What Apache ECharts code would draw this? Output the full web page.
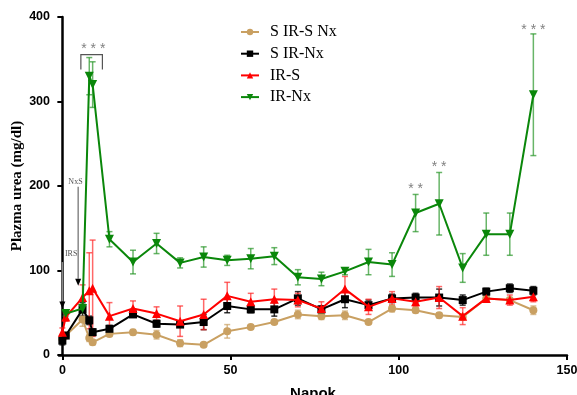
<!DOCTYPE html>
<html><head><meta charset="utf-8">
<script src="https://cdn.jsdelivr.net/npm/echarts@6/dist/echarts.min.js"></script>
<style>html,body{margin:0;padding:0;background:#fff}#c{width:577px;height:395px}</style>
</head><body><div id="c"></div>
<script>
const days = [0,1,6,8,9,14,21,28,35,42,49,56,63,70,77,84,91,98,105,112,119,126,133,140];
const tanVals   = [19,23,42,20,15,25,27,24,14,12,28,33,39,48,46,47,39,55,53,47,45,67,65,53];
const tanErr    = [3,2,8,4,3,3,3,5,4,2,8,2,2,5,4,5,2,4,3,3,3,3,3,5];
const blackVals = [17,23,54,41,27,31,48,37,36,39,58,54,54,67,54,66,59,67,68,68,65,75,79,76];
const blackErr  = [5,3,8,5,4,4,3,4,3,9,8,4,8,8,4,10,6,5,5,10,6,4,5,5];
const redVals   = [27,45,68,76,79,46,55,49,40,48,70,63,66,65,55,78,57,67,63,68,46,67,65,69];
const redErr    = [5,5,15,45,57,16,9,8,18,18,16,10,12,8,8,15,9,8,6,13,10,4,6,6];
const greenVals = [null,49,55,330,320,137,110,132,109,116,112,114,117,92,90,99,110,107,168,179,103,143,143,308];
const greenErr  = [null,3,5,22,27,9,14,12,6,12,6,12,10,9,8,4,15,14,22,37,17,25,25,72];
const seriesNames = ['S IR-S Nx','S IR-Nx','IR-S','IR-Nx'];
const xTicks = [0,50,100,150];
const yTicks = [0,100,200,300,400];

const colors = ['#C9A062','#000000','#FF0000','#0A870A'];
const errColors = ['rgba(201,160,98,0.7)','rgba(0,0,0,0.8)','rgba(255,40,40,0.7)','rgba(40,150,40,0.7)'];
const symbols = ['circle','rect','triangle','triangle'];
const rot = [0,0,0,180];
const vals = [tanVals,blackVals,redVals,greenVals];
const errs = [tanErr,blackErr,redErr,greenErr];

const chart = echarts.init(document.getElementById('c'), null, {renderer:'canvas'});
const series = [];
for (let s=0;s<4;s++){
  const errData = [];
  days.forEach((d,i)=>{ if(vals[s][i]!=null) errData.push([d,vals[s][i],errs[s][i]]); });
  series.push({
    type:'custom', name: seriesNames[s]+'_err', z:2, silent:true,
    data: errData,
    renderItem: (function(col){ return function(params, api){
      const x=api.value(0), y=api.value(1), e=api.value(2);
      const t=api.coord([x,y+e]), b=api.coord([x,y-e]);
      const w=3;
      const st={stroke:col,lineWidth:1.5};
      return {type:'group',children:[
        {type:'line',shape:{x1:t[0],y1:t[1],x2:b[0],y2:b[1]},style:st},
        {type:'line',shape:{x1:t[0]-w,y1:t[1],x2:t[0]+w,y2:t[1]},style:st},
        {type:'line',shape:{x1:b[0]-w,y1:b[1],x2:b[0]+w,y2:b[1]},style:st}
      ]};
    };})(errColors[s])
  });
}
for (let s=0;s<4;s++){
  const data=[];
  days.forEach((d,i)=>{ if(vals[s][i]!=null) data.push([d,vals[s][i]]); });
  series.push({
    type:'line', name: seriesNames[s], data, z:3+s,
    symbol: symbols[s], symbolSize: s===1?8:(s===0?8:9), symbolRotate: rot[s],
    showAllSymbol:true,
    lineStyle:{color:colors[s],width:2},
    itemStyle:{color:colors[s]},
    emphasis:{disabled:true}, animation:false
  });
}

chart.setOption({
  animation:false,
  grid:{left:59,right:10,top:17,bottom:40, outerBoundsMode:'none', containLabel:false},
  legend:{
    data: seriesNames, orient:'vertical', left:240, top:24, padding:0,
    itemWidth:18, itemHeight:8, itemGap:5.7,
    textStyle:{fontFamily:'Liberation Serif', fontSize:16, color:'#000', padding:[0,0,0,6]},
    symbolRotate:'inherit'
  },
  xAxis:{
    type:'value', min:-1, max:150,
    name:'Napok', nameLocation:'middle', nameGap:31, nameMoveOverlap:false,
    nameTextStyle:{fontFamily:'Liberation Sans', fontWeight:'bold', fontSize:15, color:'#000'},
    axisLine:{onZero:false, lineStyle:{color:'#000',width:2.5}},
    axisTick:{show:true, inside:false, length:5, lineStyle:{color:'#000',width:2}, customValues:xTicks},
    axisLabel:{fontFamily:'Liberation Sans', fontWeight:'bold', fontSize:12.5, color:'#000', margin:9, customValues:xTicks},
    splitLine:{show:false}
  },
  yAxis:{
    type:'value', min:0, max:400, interval:100,
    name:'Plazma urea (mg/dl)', nameLocation:'middle', nameGap:34, nameMoveOverlap:false,
    nameTextStyle:{fontFamily:'Liberation Serif', fontWeight:'bold', fontSize:15, color:'#000'},
    axisLine:{show:true, lineStyle:{color:'#000',width:2.5}},
    axisTick:{show:true, inside:false, length:5, lineStyle:{color:'#000',width:2}},
    axisLabel:{fontFamily:'Liberation Sans', fontWeight:'bold', fontSize:12.5, color:'#000', margin:9},
    splitLine:{show:false}
  },
  series
});

function P(x,y){ return chart.convertToPixel({gridIndex:0},[x,y]); }
const gray='#808080';
const g=[];
const bl=P(5.5,355.5), br=P(11.9,355.5), bb=P(5.5,338);
g.push({type:'polyline',shape:{points:[[bl[0],bb[1]],[bl[0],bl[1]],[br[0],br[1]],[br[0],bb[1]]]},style:{stroke:'#555',lineWidth:1.2,fill:null},z:10});
function star(txt,x,y){ const p=P(x,y); g.push({type:'text',x:p[0],y:p[1],style:{text:txt,fill:gray,font:'14px Liberation Sans',align:'center',verticalAlign:'middle'},z:10}); }
star('* * *',9.2,362);
star('* *',105,196);
star('* *',112,222);
star('* * *',140,385);
function arrow(label,x,yTop,yTip,lx,ly){
  const t=P(x,yTop), tip=P(x,yTip);
  g.push({type:'line',shape:{x1:t[0],y1:t[1],x2:tip[0],y2:tip[1]-7},style:{stroke:'#888',lineWidth:1.5},z:10});
  g.push({type:'polygon',shape:{points:[[tip[0]-3,tip[1]-7],[tip[0]+3,tip[1]-7],[tip[0],tip[1]]]},style:{fill:'#000'},z:10});
  const lp=P(lx,ly);
  g.push({type:'text',x:lp[0],y:lp[1],style:{text:label,fill:'#555',font:'8px Liberation Serif',align:'center',verticalAlign:'middle'},z:10});
}
arrow('IRS',0,110,55,2.6,120);
arrow('NxS',4.7,199,82,3.9,205);
chart.setOption({graphic:g});
</script></body></html>
